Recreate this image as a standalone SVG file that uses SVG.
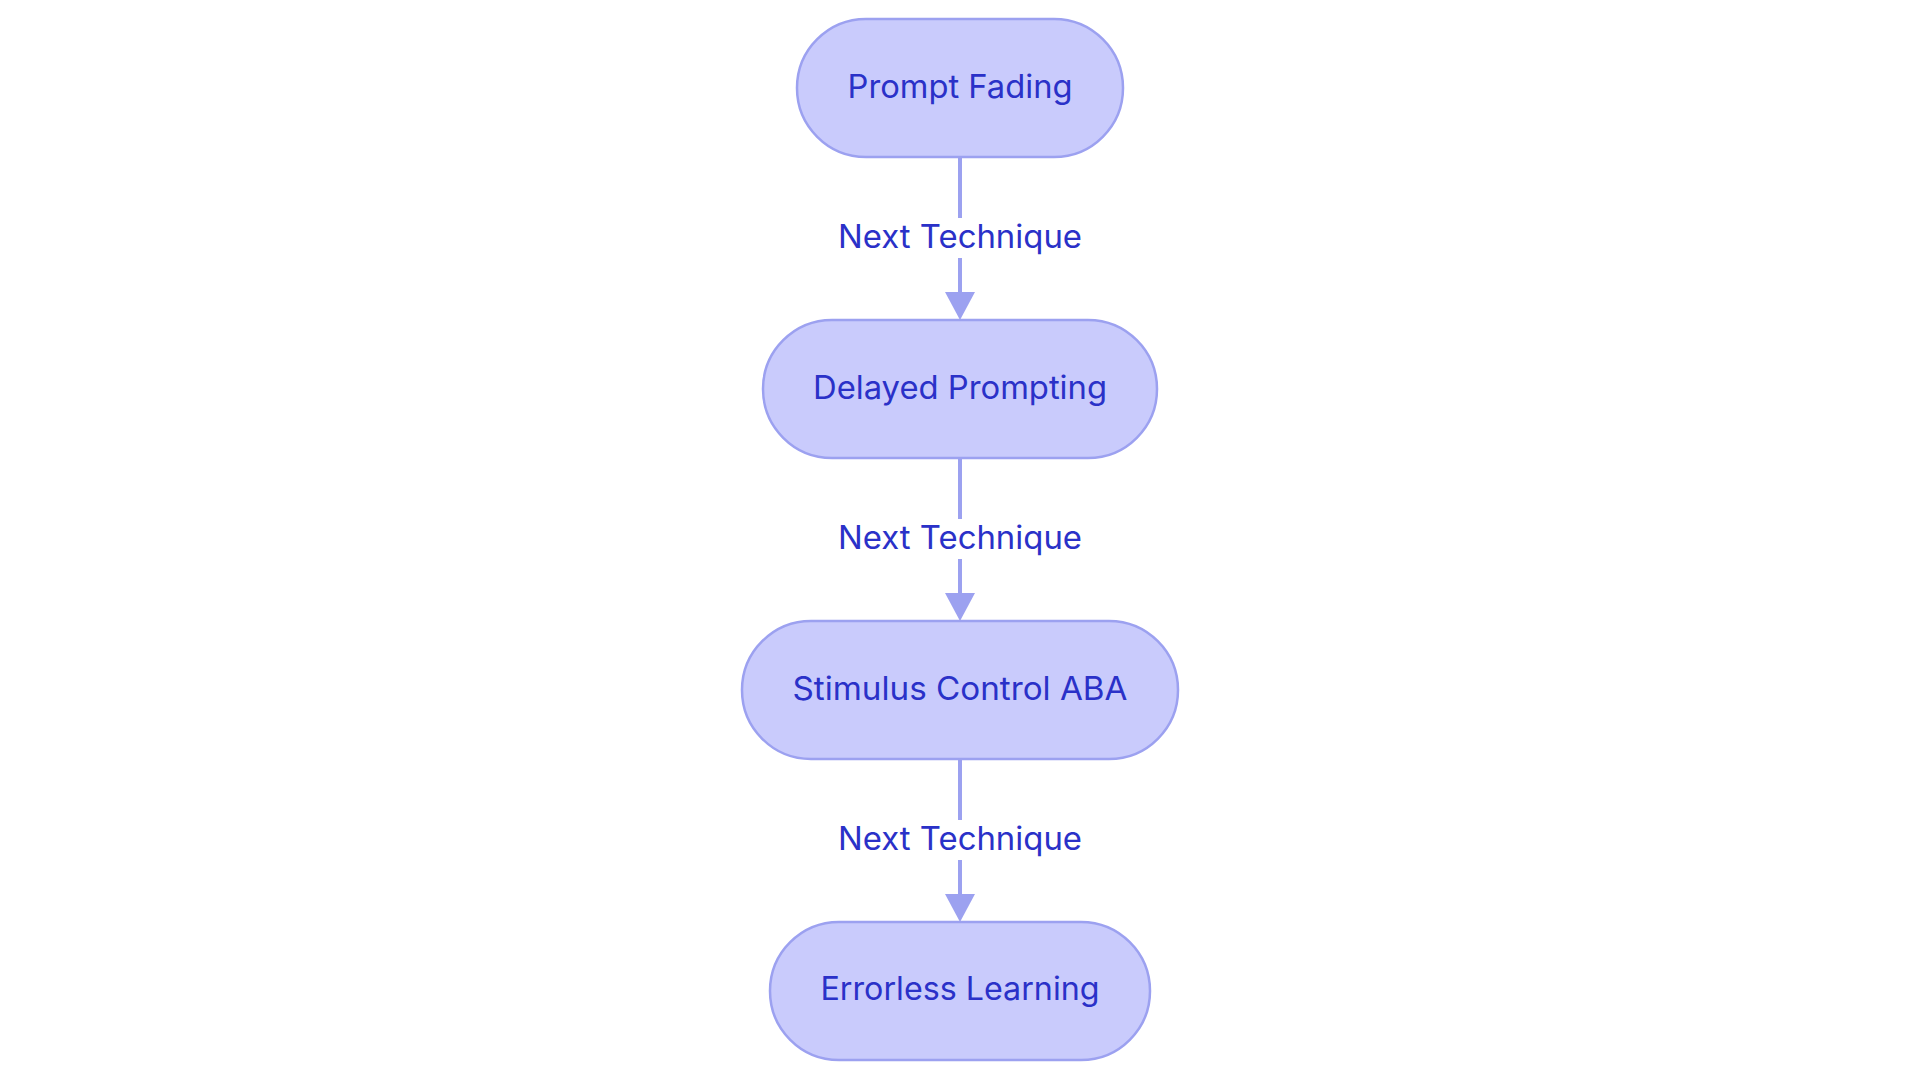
<svg xmlns="http://www.w3.org/2000/svg" width="1920" height="1083" viewBox="0 0 1920 1083">
<style>
.node rect{fill:#c9cbfc;stroke:#9ca1f0;stroke-width:2.5}
.node text,.lbl text{font-family:Inter,"Noto Sans","Liberation Sans",sans-serif;font-size:32px;fill:#2a31c8;text-anchor:middle}
.edge{stroke:#9ca1f0;stroke-width:4;fill:none}
.lbl rect{fill:#ffffff}
</style>
<defs>
<marker id="arr" markerUnits="userSpaceOnUse" markerWidth="28" markerHeight="30" refX="0" refY="15" orient="auto" viewBox="0 0 28 30">
<path d="M0,0 L28,15 L0,30 Z" fill="#9ca1f0"/>
</marker>
</defs>
<rect width="1920" height="1083" fill="#ffffff"/>
<g id="connectors">
<line class="edge" x1="960" y1="158" x2="960" y2="292" marker-end="url(#arr)"/>
<line class="edge" x1="960" y1="459" x2="960" y2="593" marker-end="url(#arr)"/>
<line class="edge" x1="960" y1="760" x2="960" y2="894" marker-end="url(#arr)"/>
<g class="lbl"><rect x="836" y="218" width="248" height="40"/><text x="960" y="248" textLength="244" lengthAdjust="spacingAndGlyphs">Next Technique</text></g>
<g class="lbl"><rect x="836" y="519" width="248" height="40"/><text x="960" y="549" textLength="244" lengthAdjust="spacingAndGlyphs">Next Technique</text></g>
<g class="lbl"><rect x="836" y="820" width="248" height="40"/><text x="960" y="850" textLength="244" lengthAdjust="spacingAndGlyphs">Next Technique</text></g>
</g>
<g id="node-prompt-fading" class="node">
<rect x="797" y="19" width="326" height="138" rx="69" ry="69"/>
<text x="960" y="98" textLength="225" lengthAdjust="spacingAndGlyphs">Prompt Fading</text>
</g>
<g id="node-delayed-prompting" class="node">
<rect x="763" y="320" width="394" height="138" rx="69" ry="69"/>
<text x="960" y="399" textLength="294" lengthAdjust="spacingAndGlyphs">Delayed Prompting</text>
</g>
<g id="node-stimulus-control" class="node">
<rect x="742" y="621" width="436" height="138" rx="69" ry="69"/>
<text x="960" y="700" textLength="335" lengthAdjust="spacingAndGlyphs">Stimulus Control ABA</text>
</g>
<g id="node-errorless-learning" class="node">
<rect x="770" y="922" width="380" height="138" rx="69" ry="69"/>
<text x="960" y="1000" textLength="279" lengthAdjust="spacingAndGlyphs">Errorless Learning</text>
</g>
</svg>
